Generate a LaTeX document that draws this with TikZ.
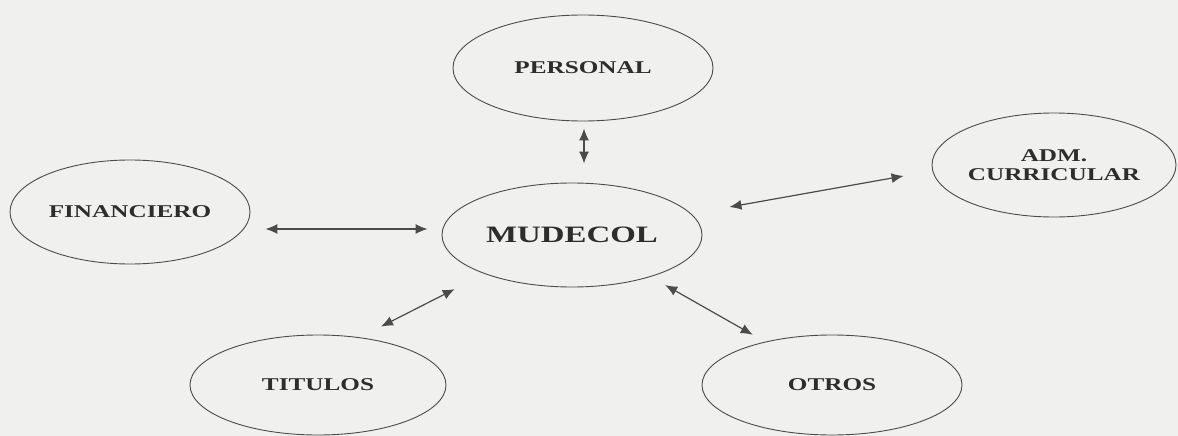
\documentclass[tikz,border=0pt]{standalone}
\usepackage{fontspec}
\setmainfont{Liberation Serif}[FakeStretch=1.4]
\usetikzlibrary{shapes.geometric,arrows.meta}
\definecolor{bg}{RGB}{240,240,238}
\definecolor{ink}{RGB}{75,75,75}
\definecolor{txt}{RGB}{45,45,45}
\begin{document}
\begin{tikzpicture}[x=1pt,y=-1pt,
  box/.style={ellipse,draw=ink,line width=0.9pt,inner sep=0pt,text=txt,
    font=\bfseries\fontsize{18}{19}\selectfont,align=center},
  link/.style={draw=ink,line width=1.2pt,
    {Latex[length=12pt,width=10pt]}-{Latex[length=12pt,width=10pt]}}]
\fill[bg] (0,0) rectangle (1178,436);
\useasboundingbox (0,0) rectangle (1178,436);
\node[box,minimum width=260pt,minimum height=106pt] (per) at (583,68) {PERSONAL};
\node[box,minimum width=260pt,minimum height=104pt,font=\bfseries\fontsize{23.5}{25}\selectfont] (mud) at (572,235) {MUDECOL};
\node[box,minimum width=240pt,minimum height=104pt] (fin) at (130,212) {FINANCIERO};
\node[box,minimum width=244pt,minimum height=104pt] (adm) at (1054,165) {ADM.\\CURRICULAR};
\node[box,minimum width=256pt,minimum height=100pt] (tit) at (318,385) {TITULOS};
\node[box,minimum width=260pt,minimum height=100pt] (otr) at (832,385) {OTROS};
\draw[link] ([shift={(1,7)}]per.south) -- ([shift={(12,-19)}]mud.north);
\draw[link] ([shift={(15,17)}]fin.east) -- ([shift={(-14,-6)}]mud.west);
\draw[link] ([shift={(27,-28)}]mud.east) -- ([shift={(-28,11)}]adm.west);
\draw[link] ([shift={(63,-8)}]tit.north) -- ([shift={(-25,17)}]mud.south west);
\draw[link] ([shift={(1,13)}]mud.south east) -- ([shift={(13,-14.6)}]otr.north west);
\end{tikzpicture}
\end{document}
